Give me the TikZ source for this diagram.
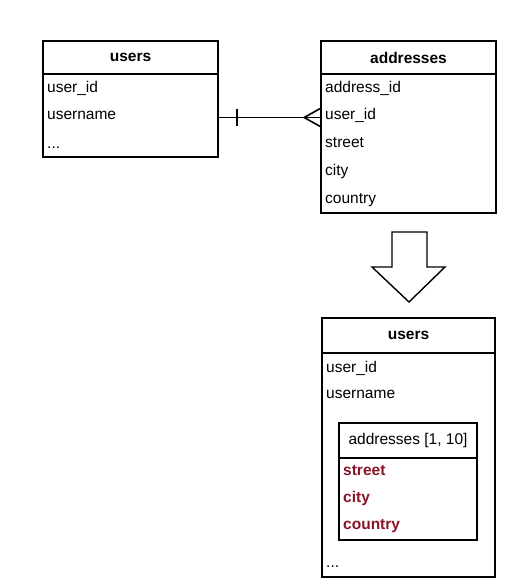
\documentclass[tikz,border=0pt]{standalone}
\usepackage{fontspec}
\setmainfont{Liberation Sans}
\definecolor{fieldred}{RGB}{135, 20, 40}
\usepackage{tikz}
\usetikzlibrary{positioning, calc}

\begin{document}
\begin{tikzpicture}[
  x=1pt, y=-1pt,
  thead/.style={draw, line width=1.6pt, minimum width=#1, minimum height=33pt, inner sep=0pt, font=\fontsize{15.5}{18}\selectfont\bfseries},
  tbody/.style={draw, line width=1.6pt, minimum width=175pt, inner sep=0pt},
  field/.style={anchor=base west, inner sep=0pt, font=\fontsize{15.5}{18}\selectfont},
  nested/.style={field, text=fieldred, font=\fontsize{15.5}{18}\selectfont\bfseries},
  link/.style={line width=1.6pt},
]
  \useasboundingbox (0,0) rectangle (514,585);

  % Table users
  \node[thead=175pt] (uh) at (130.5,57.5) {users};
  \node[tbody, minimum height=83pt] (ub) at (130.5,115.5) {};
  \node[field] (uid) at (47,93) {user\_id};
  \node[field] (uname) at (47,120) {username};
  \node[field] (udots) at (47,149) {...};

  % Table addresses
  \node[thead=175pt] (ah) at (408.5,57.5) {addresses};
  \node[tbody, minimum height=139pt] (ab) at (408.5,143.5) {};
  \node[field] (aid) at (325,93) {address\_id};
  \node[field] (auid) at (325,120) {user\_id};
  \node[field] (astreet) at (325,148) {street};
  \node[field] (acity) at (325,176) {city};
  \node[field] (acountry) at (325,204) {country};

  % One-to-many link
  \coordinate (fk) at (ab.west |- 0,117.5);
  \draw[link] (ub.east |- fk) -- (fk);
  \draw[link] ($(ub.east |- fk)+(18,-8)$) -- ++(0,17);
  \draw[link] ($(fk)+(0,-9)$) -- ++(-16,9) -- ++(16,9);

  % Block arrow
  \draw[line width=1.4pt] (392,232) -- (427,232) -- (427,267) -- (445,267)
    -- (409,302) -- (372,267) -- (392,267) -- cycle;

  % Embedded users table
  \node[thead=173pt, minimum height=35pt] (eh) at (408.5,335.5) {users};
  \node[tbody, minimum width=173pt, minimum height=224pt] (eb) at (408.5,465) {};
  \node[field] (eid) at (326,372) {user\_id};
  \node[field] (ename) at (326,398) {username};
  \node[field] (edots) at (326,567) {...};

  % Nested addresses
  \node[thead=138pt, minimum height=35pt, font=\fontsize{15.5}{18}\selectfont] (nh) at (408,440.5) {addresses [1, 10]};
  \node[tbody, minimum width=138pt, minimum height=82pt] (nb) at (408,499) {};
  \node[nested] (nstreet) at (343,475) {street};
  \node[nested] (ncity) at (343,502) {city};
  \node[nested] (ncountry) at (343,529) {country};
\end{tikzpicture}
\end{document}
